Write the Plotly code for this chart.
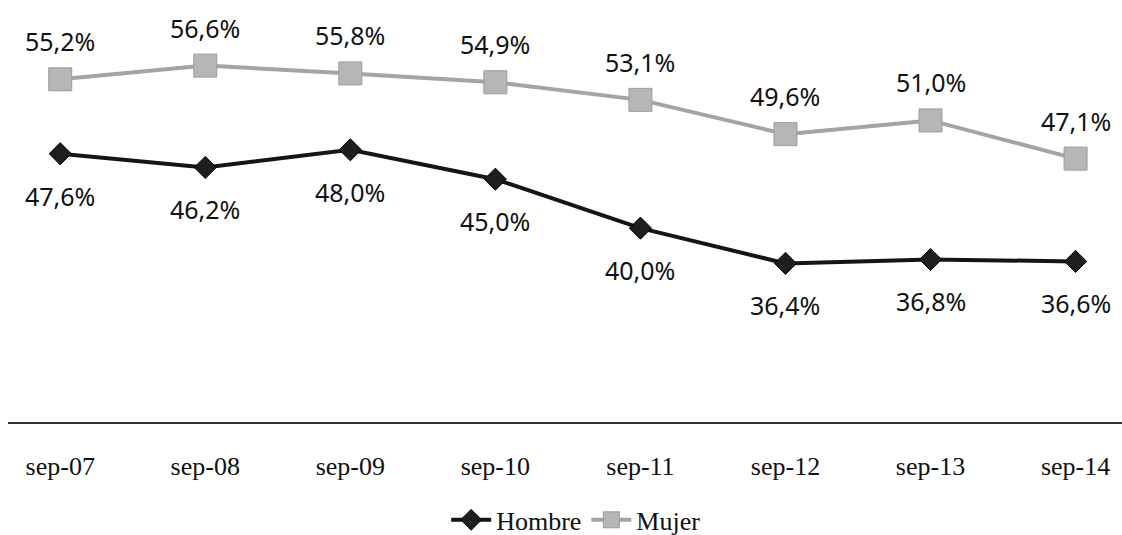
import plotly.graph_objects as go

# Periods and series (percent)
periodos = ["sep-07", "sep-08", "sep-09", "sep-10", "sep-11", "sep-12", "sep-13", "sep-14"]
hombre = [47.6, 46.2, 48.0, 45.0, 40.0, 36.4, 36.8, 36.6]
mujer = [55.2, 56.6, 55.8, 54.9, 53.1, 49.6, 51.0, 47.1]


def pct(v):
    return f"{v:.1f}".replace(".", ",") + "%"


serif = "Liberation Serif, Times New Roman, serif"

fig = go.Figure()
fig.add_trace(go.Scatter(
    x=periodos, y=hombre, name="Hombre", mode="lines+markers",
    line=dict(color="#151515", width=4),
    marker=dict(symbol="diamond", size=17, color="#1e1e1e",
                line=dict(color="#000000", width=1)),
))
fig.add_trace(go.Scatter(
    x=periodos, y=mujer, name="Mujer", mode="lines+markers",
    line=dict(color="#a4a4a4", width=4),
    marker=dict(symbol="square", size=23, color="#b6b6b6",
                line=dict(color="#9c9c9c", width=1)),
))

# Value labels: women above, men below
label_font = dict(family="Noto Sans, DejaVu Sans, sans-serif", size=25, color="#111111")
for p, v in zip(periodos, mujer):
    fig.add_annotation(x=p, y=v, text=pct(v), showarrow=False,
                       yshift=38, font=label_font)
for p, v in zip(periodos, hombre):
    fig.add_annotation(x=p, y=v, text=pct(v), showarrow=False,
                       yshift=-42, font=label_font)

fig.update_layout(
    width=1122, height=535,
    margin=dict(l=8, r=0, t=0, b=113, autoexpand=False),
    paper_bgcolor="white", plot_bgcolor="white",
    showlegend=True,
    legend=dict(orientation="h", x=0.51, xanchor="center", y=-0.232, yanchor="middle",
                font=dict(family=serif, size=26, color="#111111"),
                itemwidth=40, tracegroupgap=0),
    xaxis=dict(type="category", range=[-0.36, 7.32],
               showline=True, linecolor="#333333", linewidth=2,
               showgrid=False, zeroline=False, ticks="", automargin=False,
               tickfont=dict(family=serif, size=26, color="#111111"),
               ticklabelstandoff=20),
    yaxis=dict(range=[20.2, 63.3], visible=False, showgrid=False, zeroline=False),
)

fig.write_html("out.html")
